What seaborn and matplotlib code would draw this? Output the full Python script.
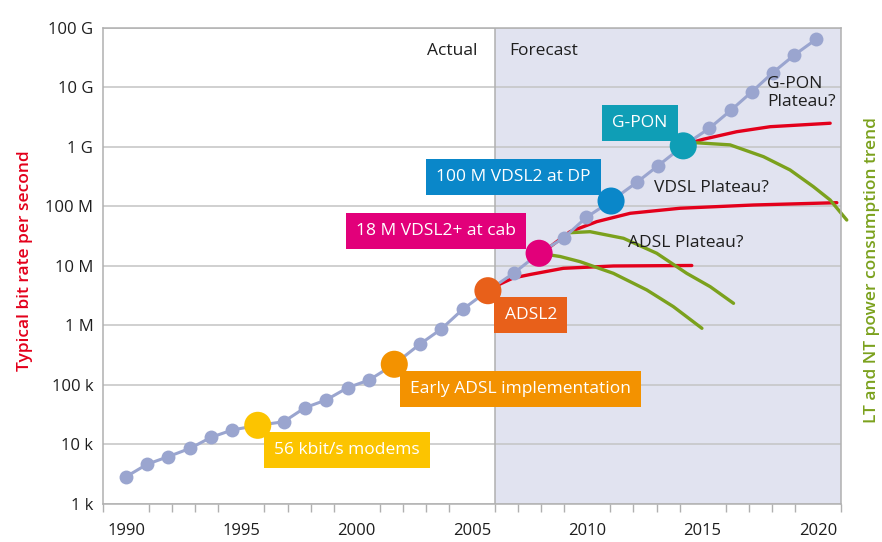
import pandas as pd
import matplotlib.pyplot as plt
import seaborn as sns

# Typical bit rate per year
years = [1990.0, 1990.91, 1991.82, 1992.78, 1993.69, 1994.60, 1995.71, 1996.83,
         1997.76, 1998.67, 1999.61, 2000.54, 2001.63, 2002.75, 2003.67, 2004.60,
         2005.69, 2006.80, 2007.91, 2008.99, 2009.95, 2011.03, 2012.15, 2013.07,
         2014.16, 2015.29, 2016.24, 2017.14, 2018.04, 2018.98, 2019.92]
bit_rate = [2870, 4645, 6223, 8610, 13180, 17460, 20940, 23990,
            41400, 55700, 89700, 120800, 221800, 485300, 867000, 1.858e6,
            3.81e6, 7.46e6, 1.62e7, 2.96e7, 6.46e7, 1.22e8, 2.52e8, 4.79e8,
            1.03e9, 2.03e9, 4.12e9, 8.36e9, 1.74e10, 3.46e10, 6.34e10]

# Milestone technologies (index into the series above)
milestone_idx = [6, 12, 16, 18, 21, 24]
milestone_labels = ["56 kbit/s modems", "Early ADSL implementation", "ADSL2",
                    "18 M VDSL2+ at cab", "100 M VDSL2 at DP", "G-PON"]
milestone_colors = ["#fcc400", "#f39200", "#e8601a", "#e2007a", "#0a87c9", "#0f9eb6"]
label_x = [1996.43, 2002.33, 2006.41, 1999.99, 2003.46, 2011.09]
label_y = [8.07e3, 8.53e4, 1.49e6, 3.84e7, 3.09e8, 2.49e9]

# Plateau curves (red) for bit rate
adsl_red_x = [2005.69, 2006.22, 2006.78, 2007.52, 2008.96, 2011.13, 2014.53]
adsl_red_y = [3.81e6, 4.94e6, 6.22e6, 7.13e6, 9.06e6, 9.91e6, 1.01e7]
vdsl_red_x = [2007.91, 2008.39, 2009.25, 2010.41, 2011.86, 2014.02, 2017.20, 2020.82]
vdsl_red_y = [1.62e7, 2.09e7, 3.73e7, 5.50e7, 7.60e7, 9.23e7, 1.047e8, 1.145e8]
gpon_red_x = [2014.17, 2015.03, 2016.48, 2017.93, 2020.53]
gpon_red_y = [1.07e9, 1.33e9, 1.78e9, 2.16e9, 2.47e9]

# Power consumption trend curves (green)
adsl_green_x = [2007.91, 2008.82, 2009.69, 2011.13, 2012.58, 2013.73, 2014.97]
adsl_green_y = [1.62e7, 1.43e7, 1.17e7, 7.46e6, 3.92e6, 2.06e6, 8.91e5]
vdsl_green_x = [2009.25, 2010.12, 2011.57, 2013.01, 2014.31, 2015.33, 2016.34]
vdsl_green_y = [3.59e7, 3.73e7, 2.89e7, 1.62e7, 7.46e6, 4.45e6, 2.34e6]
gpon_green_x = [2014.17, 2014.75, 2016.19, 2017.64, 2018.79, 2019.80, 2020.53, 2021.25]
gpon_green_y = [1.07e9, 1.16e9, 1.07e9, 6.78e8, 4.06e8, 2.13e8, 1.27e8, 5.86e7]

y_ticks = [1e3, 1e4, 1e5, 1e6, 1e7, 1e8, 1e9, 1e10, 1e11]
y_tick_labels = ["1 k", "10 k", "100 k", "1 M", "10 M", "100 M", "1 G", "10 G", "100 G"]
x_ticks = [1990, 1995, 2000, 2005, 2010, 2015, 2020]

sns.set_theme(style="white")
plt.rcParams["font.family"] = ["Open Sans", "DejaVu Sans"]

RED = "#e3001b"
GREEN = "#7ba11d"
GRID = "#c4c4c4"
TXT = "#1e1e1e"
FS = 12.5

fig = plt.figure(figsize=(8.82, 5.42), dpi=100)
ax = fig.add_axes([103 / 882, 38 / 542, 738 / 882, 476.5 / 542])
ax.set_yscale("log")
ax.set_xlim(1989, 2021)
ax.set_ylim(1e3, 1e11)

# Forecast region
ax.axvspan(2006, 2021, color="#e1e3f0", lw=0, zorder=0)
ax.axvline(2006, color="#b0b0b0", lw=1.1, zorder=1)

ax.set_yticks(y_ticks)
ax.set_yticklabels(y_tick_labels)
ax.minorticks_off()
ax.set_xticks(x_ticks)
ax.set_xticks(range(1989, 2022), minor=True)
ax.yaxis.grid(True, color=GRID, lw=1.1)
ax.set_axisbelow(True)
ax.tick_params(axis="y", length=0, pad=7, labelsize=12, colors=TXT)
ax.tick_params(axis="x", which="major", direction="out", length=8, width=1,
               color="#b0b0b0", pad=6, labelsize=12, labelcolor=TXT)
ax.tick_params(axis="x", which="minor", direction="out", length=6, width=1,
               color="#b0b0b0", bottom=True)
for s in ax.spines.values():
    s.set_color("#b0b0b0")
    s.set_linewidth(1.1)

# Plateau and power curves
for xs, ys, c in [(adsl_red_x, adsl_red_y, RED), (vdsl_red_x, vdsl_red_y, RED),
                  (gpon_red_x, gpon_red_y, RED), (adsl_green_x, adsl_green_y, GREEN),
                  (vdsl_green_x, vdsl_green_y, GREEN)]:
    sns.lineplot(x=xs, y=ys, ax=ax, color=c, lw=2.4, zorder=2, sort=False,
                 solid_capstyle="round", solid_joinstyle="round")
ax.plot(gpon_green_x, gpon_green_y, color=GREEN, lw=2.4, zorder=2,
        clip_on=False, solid_capstyle="round", solid_joinstyle="round")

# Bit rate series
df = pd.DataFrame({"year": years, "rate": bit_rate})
sns.lineplot(data=df, x="year", y="rate", ax=ax, color="#9aa5cf", lw=2.2,
             marker="o", markersize=10, markeredgewidth=0, zorder=3)

ms = df.iloc[milestone_idx].copy()
ms["label"] = milestone_labels
sns.scatterplot(data=ms, x="year", y="rate", hue="label", palette=milestone_colors,
                s=380, linewidth=0, ax=ax, zorder=5, legend=False)

for lab, lx, ly, c in zip(milestone_labels, label_x, label_y, milestone_colors):
    ax.text(lx, ly, lab, color="white", fontsize=FS, ha="left", va="center",
            zorder=6, bbox=dict(boxstyle="square,pad=0.58", fc=c, ec="none"))

ax.text(2005.26, 4.04e10, "Actual", ha="right", va="center", fontsize=FS, color=TXT)
ax.text(2006.61, 4.04e10, "Forecast", ha="left", va="center", fontsize=FS, color=TXT)
ax.text(2017.80, 7.96e9, "G-PON\nPlateau?", ha="left", va="center", fontsize=FS,
        color=TXT, linespacing=1.1)
ax.text(2012.9, 2.0e8, "VDSL Plateau?", ha="left", va="center", fontsize=FS, color=TXT)
ax.text(2011.75, 2.38e7, "ADSL Plateau?", ha="left", va="center", fontsize=FS, color=TXT)

ax.set_xlabel("")
ax.set_ylabel("Typical bit rate per second", color=RED, fontsize=FS, fontweight="semibold")
ax.yaxis.set_label_coords(-0.0949, 0.51)
ax.text(1.042, 0.491, "LT and NT power consumption trend", transform=ax.transAxes,
        rotation=90, ha="center", va="center", color=GREEN, fontsize=FS,
        fontweight="semibold")

fig.savefig("out.png", dpi=100)
plt.close(fig)
